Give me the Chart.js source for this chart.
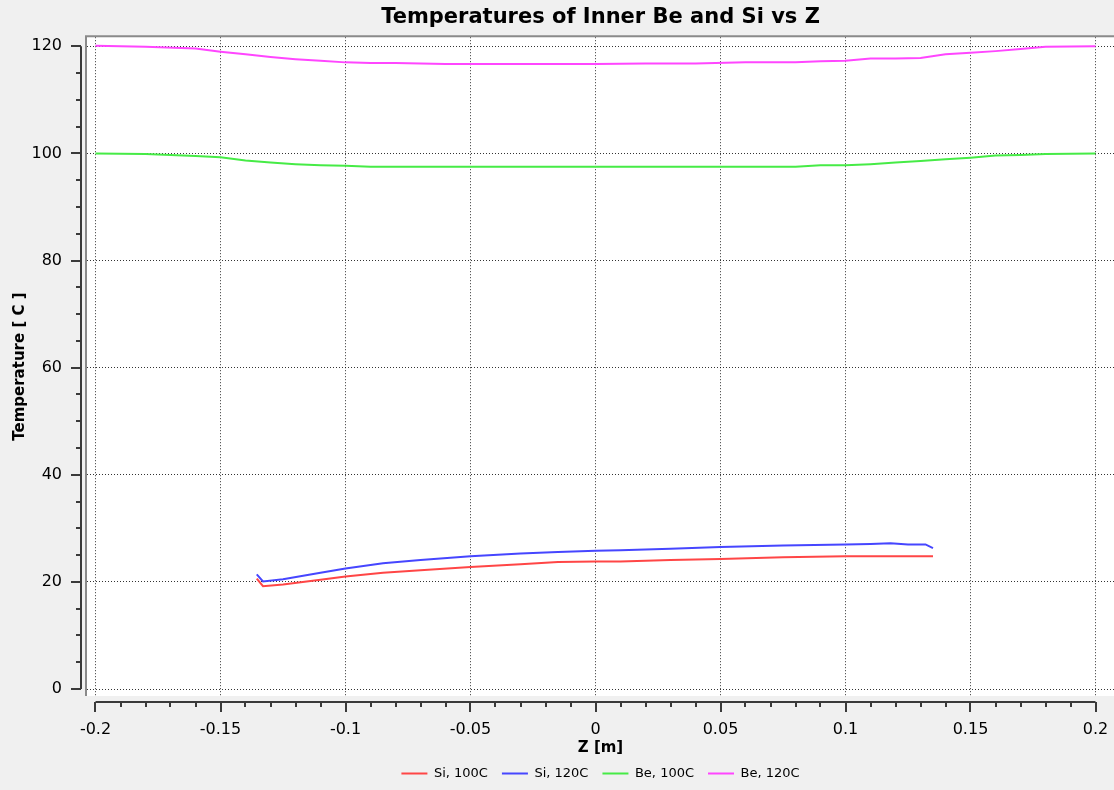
<!DOCTYPE html>
<html>
<head>
<meta charset="utf-8">
<script src="https://cdn.jsdelivr.net/npm/chart.js@4"></script>
<style>
  body { margin: 0; background: #f0f0f0; }
  canvas { display: block; }
</style>
</head>
<body>
<canvas id="tempChart" width="1114" height="790"></canvas>
<script>
// Si sensor temperatures along Z
const siZ   = [-0.1355, -0.133, -0.125, -0.11, -0.1, -0.085, -0.07, -0.05, -0.03, -0.015, 0, 0.01, 0.03, 0.05, 0.075, 0.1, 0.11, 0.118, 0.125, 0.132, 0.135];
const si100 = [20.6, 19.2, 19.5, 20.4, 21.0, 21.7, 22.2, 22.8, 23.3, 23.7, 23.8, 23.8, 24.1, 24.3, 24.6, 24.8, 24.8, 24.8, 24.8, 24.8, 24.8];
const si120 = [21.4, 20.1, 20.5, 21.7, 22.5, 23.5, 24.1, 24.8, 25.3, 25.6, 25.8, 25.9, 26.2, 26.5, 26.8, 27.0, 27.1, 27.2, 27.0, 27.0, 26.3];

// Inner Be beam pipe temperatures along Z
const beZ   = [-0.2, -0.18, -0.16, -0.15, -0.14, -0.13, -0.12, -0.11, -0.1, -0.09, -0.08, -0.06, -0.04, -0.02, 0, 0.02, 0.04, 0.06, 0.08, 0.09, 0.1, 0.11, 0.12, 0.13, 0.14, 0.15, 0.16, 0.17, 0.18, 0.2];
const be100 = [100.0, 99.9, 99.5, 99.3, 98.7, 98.3, 98.0, 97.8, 97.7, 97.5, 97.5, 97.5, 97.5, 97.5, 97.5, 97.5, 97.5, 97.5, 97.5, 97.8, 97.8, 98.0, 98.3, 98.6, 98.9, 99.2, 99.6, 99.7, 99.9, 100.0];
const be120 = [120.1, 119.9, 119.6, 119.0, 118.5, 118.0, 117.6, 117.3, 117.0, 116.9, 116.9, 116.7, 116.7, 116.7, 116.7, 116.8, 116.8, 117.0, 117.0, 117.2, 117.3, 117.7, 117.7, 117.8, 118.5, 118.8, 119.1, 119.5, 119.9, 120.0];

const seriesNames = ['Si, 100C', 'Si, 120C', 'Be, 100C', 'Be, 120C'];
const seriesColors = ['rgb(255,70,70)', 'rgb(70,70,255)', 'rgb(70,235,70)', 'rgb(255,70,255)'];

// axis ranges and ticks
const xMin = -0.2034, xMax = 0.2074, xStep = 0.05, xMinor = 0.01;
const yMin = -1.3, yMax = 121.7, yStep = 20, yMinor = 5;

function pts(xs, ys) {
    return xs.map((x, i) => ({ x: x, y: ys[i] }));
}

function makeSet(i, data) {
    const c = seriesColors[i];
    return {
        label: seriesNames[i],
        data: data,
        borderColor: c,
        backgroundColor: c,
        borderWidth: 2,
        pointBorderColor: c,
        pointBackgroundColor: c,
        pointBorderWidth: 2
    };
}

// plot background, frame and Qwt-style detached axes
const axisDecor = {
    id: 'axisDecor',
    beforeDraw(chart) {
        const { ctx, chartArea: a } = chart;
        ctx.save();
        ctx.fillStyle = '#ffffff';
        ctx.fillRect(a.left, a.top, a.right - a.left, a.bottom - a.top);
        ctx.restore();
    },
    afterDraw(chart) {
        const { ctx, chartArea: a } = chart;
        const xs = chart.scales.x, ys = chart.scales.y;
        ctx.save();
        // sunken frame
        ctx.strokeStyle = '#8a8a8a';
        ctx.lineWidth = 2;
        ctx.beginPath();
        ctx.moveTo(a.left - 1, a.bottom);
        ctx.lineTo(a.left - 1, a.top - 1);
        ctx.lineTo(a.right, a.top - 1);
        ctx.stroke();

        ctx.strokeStyle = '#3a3a3a';
        ctx.lineWidth = 2;
        // y axis
        const yx = a.left - 6;
        ctx.beginPath();
        ctx.moveTo(yx, ys.getPixelForValue(0));
        ctx.lineTo(yx, ys.getPixelForValue(120));
        for (let v = 0; v <= 120; v += yMinor) {
            const p = Math.round(ys.getPixelForValue(v));
            const len = (v % yStep === 0) ? 10 : 5;
            ctx.moveTo(yx, p);
            ctx.lineTo(yx - len, p);
        }
        ctx.stroke();
        // x axis
        const xy = a.bottom + 6;
        ctx.beginPath();
        ctx.moveTo(xs.getPixelForValue(-0.2), xy);
        ctx.lineTo(xs.getPixelForValue(0.2), xy);
        for (let i = -20; i <= 20; i++) {
            const p = Math.round(xs.getPixelForValue(i * xMinor));
            const len = (i % 5 === 0) ? 10 : 5;
            ctx.moveTo(p, xy);
            ctx.lineTo(p, xy + len);
        }
        ctx.stroke();
        ctx.restore();
    }
};

const ctx = document.getElementById('tempChart').getContext('2d');
const tempChart = new Chart(ctx, {
    type: 'line',
    data: {
        datasets: [
            makeSet(0, pts(siZ, si100)),
            makeSet(1, pts(siZ, si120)),
            makeSet(2, pts(beZ, be100)),
            makeSet(3, pts(beZ, be120))
        ]
    },
    options: {
        responsive: false,
        animation: false,
        parsing: false,
        layout: { padding: 0 },
        elements: {
            line: { borderWidth: 2, tension: 0 },
            point: { radius: 0, hoverRadius: 0 }
        },
        plugins: {
            title: {
                display: true,
                fullSize: false,
                text: 'Temperatures of Inner Be and Si vs Z',
                color: '#000',
                font: { family: 'DejaVu Sans', size: 21, weight: 'bold' },
                padding: { top: 5, bottom: 7 }
            },
            legend: {
                position: 'bottom',
                fullSize: false,
                labels: {
                    usePointStyle: true,
                    pointStyle: 'line',
                    pointStyleWidth: 26,
                    padding: 14,
                    color: '#000',
                    font: { family: 'DejaVu Sans', size: 13 }
                }
            },
            tooltip: { enabled: false }
        },
        scales: {
            x: {
                type: 'linear',
                min: xMin,
                max: xMax,
                afterFit: s => { s.height = 57; s.paddingLeft = 0; s.paddingRight = 0; },
                ticks: {
                    stepSize: xStep,
                    includeBounds: false,
                    padding: 24,
                    color: '#000',
                    font: { family: 'DejaVu Sans', size: 16 },
                    maxRotation: 0,
                    callback: v => String(Math.round(v * 100) / 100)
                },
                grid: {
                    color: 'rgba(0,0,0,0.8)',
                    lineWidth: 1,
                    drawTicks: false
                },
                border: { display: false, dash: [1, 2] },
                title: {
                    display: true,
                    text: 'Z [m]',
                    color: '#000',
                    font: { family: 'DejaVu Sans', size: 15, weight: 'bold' },
                    padding: { top: 0, bottom: -4 }
                }
            },
            y: {
                type: 'linear',
                min: yMin,
                max: yMax,
                afterFit: s => { s.width = 87; },
                ticks: {
                    stepSize: yStep,
                    includeBounds: false,
                    padding: 25,
                    color: '#000',
                    font: { family: 'DejaVu Sans', size: 16 }
                },
                grid: {
                    color: 'rgba(0,0,0,0.8)',
                    lineWidth: 1,
                    drawTicks: false
                },
                border: { display: false, dash: [1, 2] },
                title: {
                    display: true,
                    text: 'Temperature [ C ]',
                    color: '#000',
                    font: { family: 'DejaVu Sans', size: 15, weight: 'bold' },
                    padding: { top: 11, bottom: 0 }
                }
            }
        }
    },
    plugins: [axisDecor]
});
</script>
</body>
</html>
